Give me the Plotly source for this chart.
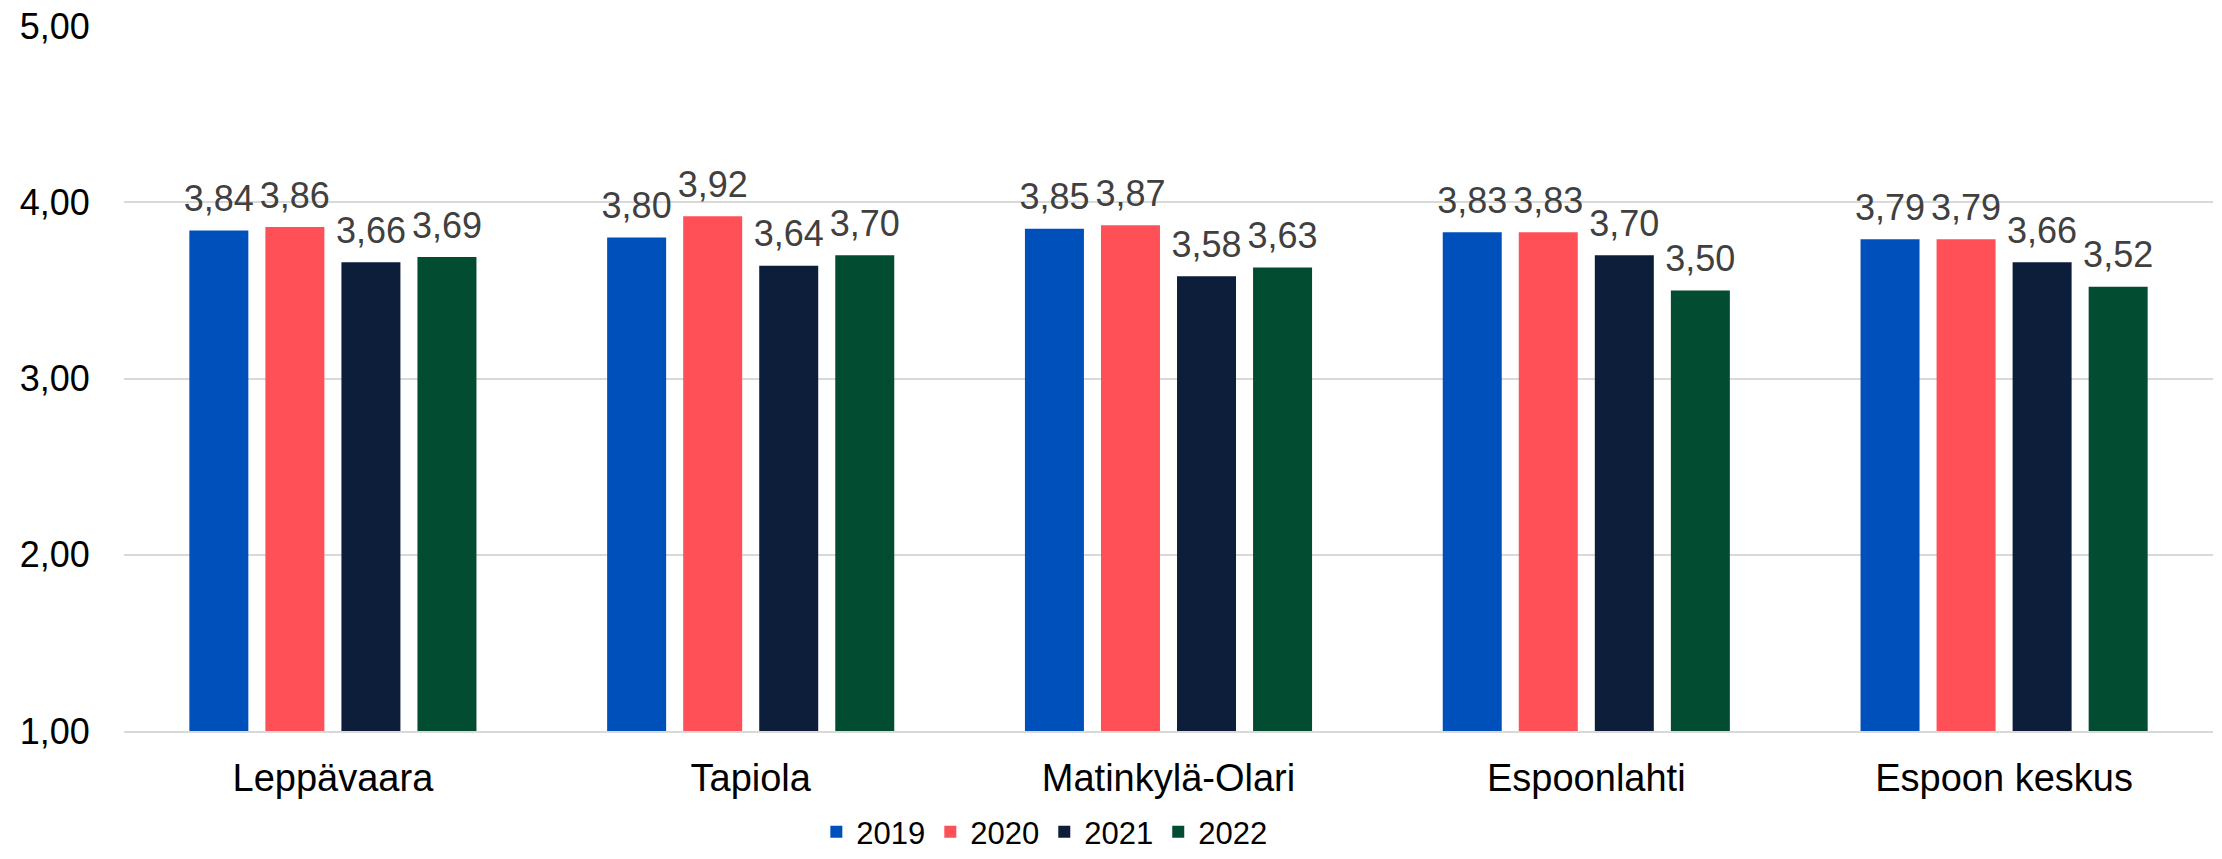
import plotly.graph_objects as go

categories = ["Leppävaara", "Tapiola", "Matinkylä-Olari", "Espoonlahti", "Espoon keskus"]
years = ["2019", "2020", "2021", "2022"]
v2019 = [3.84, 3.80, 3.85, 3.83, 3.79]
v2020 = [3.86, 3.92, 3.87, 3.83, 3.79]
v2021 = [3.66, 3.64, 3.58, 3.70, 3.66]
v2022 = [3.69, 3.70, 3.63, 3.50, 3.52]
series = [v2019, v2020, v2021, v2022]
colors = ["#0050BB", "#FF5058", "#0C1E3A", "#024D31"]

FONT = "Liberation Sans, Arial, sans-serif"
GAP = 0.272

fig = go.Figure()
for i, (name, vals, c) in enumerate(zip(years, series, colors)):
    fig.add_trace(go.Bar(
        x=categories, y=vals, name=name, marker_color=c, marker_line_width=0,
        offsetgroup=str(i),
    ))
for i, (name, vals) in enumerate(zip(years, series)):
    fig.add_trace(go.Scatter(
        x=categories, y=vals, mode="markers+text", showlegend=False, hoverinfo="skip",
        marker=dict(size=15, opacity=0), offsetgroup=str(i),
        text=[f"{v:.2f}".replace(".", ",") for v in vals],
        textposition="top center", cliponaxis=False,
        textfont=dict(family=FONT, size=36, color="#404040"),
    ))

fig.update_layout(
    width=2222, height=859,
    paper_bgcolor="white", plot_bgcolor="white",
    separators=", ",
    barmode="group", bargap=GAP, bargroupgap=0.224,
    scattermode="group", scattergap=GAP,
    margin=dict(l=124, r=9, t=26, b=128),
    font=dict(family=FONT, color="black"),
    showlegend=True,
    legend=dict(orientation="h", xref="container", yref="container",
                x=0.47, xanchor="center", y=-0.009, yanchor="bottom",
                font=dict(family=FONT, size=31, color="black"),
                itemwidth=30, traceorder="normal"),
)
fig.update_xaxes(showgrid=False, showline=True, linecolor="#d9d9d9", linewidth=1.5,
                 ticks="outside", ticklen=13, tickcolor="rgba(0,0,0,0)", automargin=False,
                 tickfont=dict(size=38, color="black"))
fig.update_yaxes(range=[1, 5], dtick=1, tick0=1, tickformat=".2f", automargin=False,
                 showgrid=True, gridcolor="#d9d9d9", gridwidth=1.5, zeroline=False,
                 ticks="outside", ticklen=26, tickcolor="rgba(0,0,0,0)",
                 tickfont=dict(size=36, color="black"))

fig.write_html("out.html", config={"displayModeBar": False},
               post_script="document.body.style.margin='0';document.body.style.overflow='hidden';")
